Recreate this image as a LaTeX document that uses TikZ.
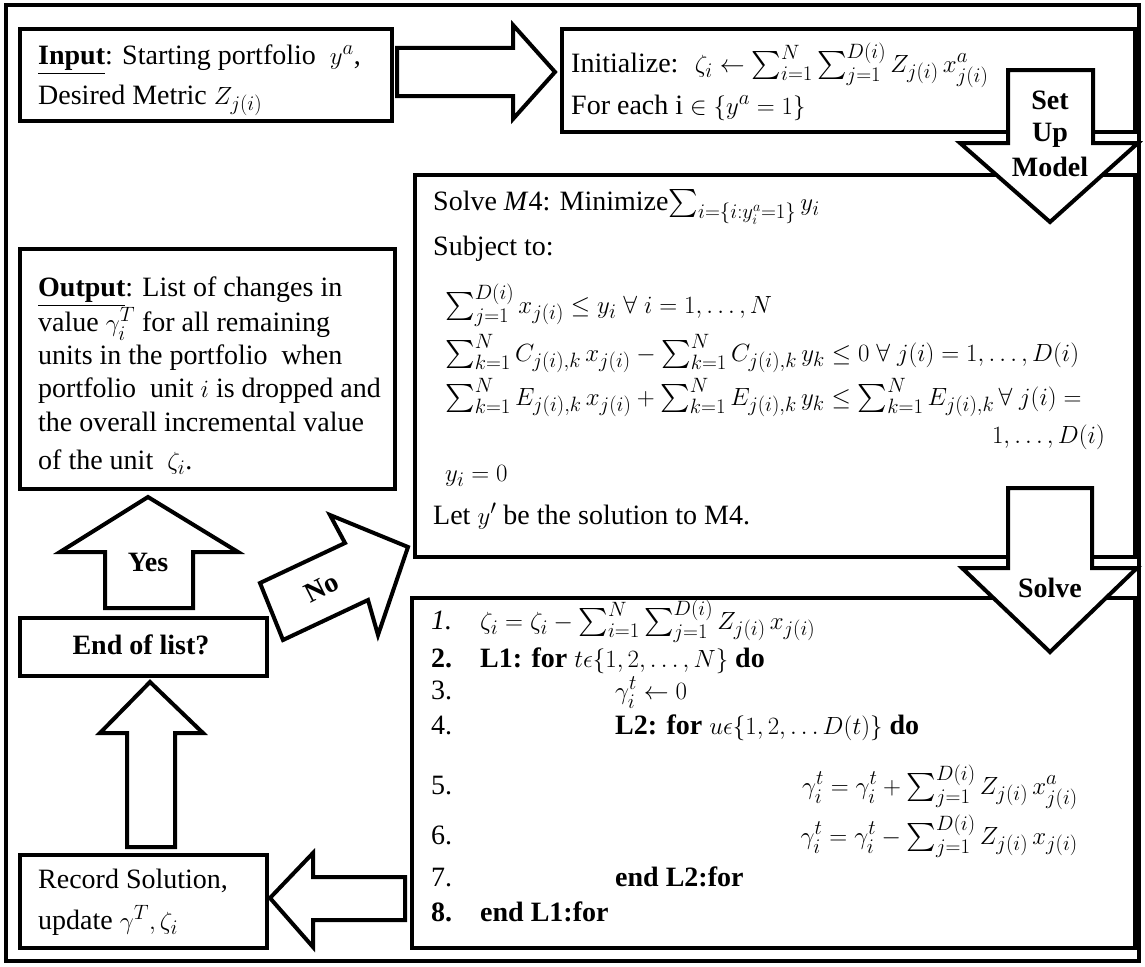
\documentclass[tikz,border=0pt]{standalone}
\usepackage{amsmath,amssymb}
\usepackage{fontspec}
\setmainfont{Liberation Serif}
\begin{document}
\begin{tikzpicture}[x=1pt,y=-1pt,
  frame/.style={draw=black,line width=3.5pt},
  panel/.style={draw=black,line width=4pt,fill=white,anchor=north west,inner sep=0pt},
  blockarrow/.style={draw=black,line width=4pt,fill=white,line join=miter},
  txt/.style={anchor=base west,inner sep=0pt,font=\fontsize{28}{34}\selectfont},
  rtxt/.style={txt,anchor=base east},
  lbl/.style={inner sep=0pt,font=\fontsize{28}{30}\selectfont\bfseries}]
\useasboundingbox (0,0) rectangle (1145,966);
% outer frame
\draw[frame] (6,5) rectangle (1139,961);

% boxes
\node[panel,minimum width=372pt,minimum height=92pt]  (input)  at (18,27)  {};
\node[panel,minimum width=573pt,minimum height=103pt] (init)   at (560,27) {};
\node[panel,minimum width=720pt,minimum height=382pt] (model)  at (413,173) {};
\node[panel,minimum width=375pt,minimum height=240pt] (output) at (18,247) {};
\node[panel,minimum width=247pt,minimum height=58pt]  (endlist) at (18,616) {};
\node[panel,minimum width=247pt,minimum height=93pt]  (record) at (18,853) {};
\node[panel,minimum width=723pt,minimum height=350pt] (solve)  at (410,596) {};

% block arrows
\draw[blockarrow] (397,48) -- (513,48) -- (513,25) -- (555,72) -- (513,119) -- (513,96) -- (397,96) -- cycle;
\draw[blockarrow] (1008,70) -- (1093,70) -- (1093,143) -- (1138,143) -- (1050,222) -- (960,143) -- (1008,143) -- cycle;
\draw[blockarrow] (1008,488) -- (1092,488) -- (1092,568) -- (1137,568) -- (1050,652) -- (962,568) -- (1008,568) -- cycle;
\draw[blockarrow] (105,608) -- (105,552) -- (60,552) -- (148,497) -- (238,552) -- (193,552) -- (193,608) -- cycle;
\draw[blockarrow] (260,583) -- (345,543) -- (330,515) -- (408,547) -- (378,635) -- (368,600) -- (283,640) -- cycle;
\draw[blockarrow] (127,847) -- (127,733) -- (100,733) -- (150,682) -- (203,733) -- (175,733) -- (175,847) -- cycle;
\draw[blockarrow] (405,877) -- (313,877) -- (313,853) -- (270,898) -- (313,947) -- (313,920) -- (405,920) -- cycle;

% arrow labels
\node[lbl] (lset)   at (1050,100) {Set};
\node[lbl] (lup)    at (1050,135) {Up};
\node[lbl] (lmodel) at (1050,167) {Model};
\node[lbl] (lsolve) at (1050,588) {Solve};
\node[lbl] (lyes)   at (148,562) {Yes};
\node[lbl,rotate=27] (lno) at (322,588) {No};

% input
\node[txt] (in1) at (38,64) {\underline{\textbf{Input}}: Starting portfolio~ $y^{a}$,};
\node[txt] (in2) at (38,104) {Desired Metric $Z_{j(i)}$};

% initialize
\node[txt] (it1) at (571,72) {Initialize:~ $\zeta_i \leftarrow \sum_{i=1}^{N}\sum_{j=1}^{D(i)} Z_{j(i)}\,x_{j(i)}^{a}$};
\node[txt] (it2) at (571,114) {For each i $\in \{y^{a} = 1\}$};

% model M4
\node[txt] (m1) at (433,210) {Solve \textit{M}4: Minimize$\sum_{i=\{i:y_i^{a}=1\}} y_i$};
\node[txt] (m2) at (433,255) {Subject to:};
\node[txt] (m3) at (445,313) {$\sum_{j=1}^{D(i)} x_{j(i)} \le y_i \;\forall\; i = 1,\dots,N$};
\node[txt] (m4) at (445,361) {$\sum_{k=1}^{N} C_{j(i),k}\,x_{j(i)} - \sum_{k=1}^{N} C_{j(i),k}\,y_k \le 0 \;\forall\; j(i) = 1,\dots,D(i)$};
\node[txt] (m5) at (445,405) {$\sum_{k=1}^{N} E_{j(i),k}\,x_{j(i)} + \sum_{k=1}^{N} E_{j(i),k}\,y_k \le \sum_{k=1}^{N} E_{j(i),k}\,\forall\; j(i) =$};
\node[rtxt] (m6) at (1105,443) {$1,\dots,D(i)$};
\node[txt] (m7) at (445,481) {$y_i = 0$};
\node[txt] (m8) at (433,524) {Let $y'$ be the solution to M4.};

% output
\node[txt] (o1) at (38,296) {\underline{\textbf{Output}}: List of changes in};
\node[txt] (o2) at (38,331) {value $\gamma_i^{T}$ for all remaining};
\node[txt] (o3) at (38,364) {units in the portfolio~ when};
\node[txt] (o4) at (38,397) {portfolio~ unit $i$ is dropped and};
\node[txt] (o5) at (38,431) {the overall incremental value};
\node[txt] (o6) at (38,469) {of the unit~ $\zeta_i$.};

% decision and record
\node[lbl] (e1) at (141,645) {End of list?};
\node[txt] (r1) at (38,888) {Record Solution,};
\node[txt] (r2) at (38,929) {update $\gamma^{T},\zeta_i$};

% algorithm
\node[txt] (n1) at (431,629) {\textit{1.}};
\node[txt] (n2) at (431,667) {\textbf{2.}};
\node[txt] (n3) at (431,699) {3.};
\node[txt] (n4) at (431,734) {4.};
\node[txt] (n5) at (431,794) {5.};
\node[txt] (n6) at (431,844) {6.};
\node[txt] (n7) at (431,886) {7.};
\node[txt] (n8) at (431,921) {\textbf{8.}};
\node[txt] (a1) at (480,629) {$\zeta_i = \zeta_i - \sum_{i=1}^{N}\sum_{j=1}^{D(i)} Z_{j(i)}\,x_{j(i)}$};
\node[txt] (a2) at (480,667) {\textbf{L1: for} $t\epsilon\{1,2,\dots,N\}$ \textbf{do}};
\node[txt] (a3) at (615,699) {$\gamma_i^{t} \leftarrow 0$};
\node[txt] (a4) at (615,734) {\textbf{L2: for} $u\epsilon\{1,2,\dots D(t)\}$ \textbf{do}};
\node[rtxt] (a5) at (1078,794) {$\gamma_i^{t} = \gamma_i^{t} + \sum_{j=1}^{D(i)} Z_{j(i)}\,x_{j(i)}^{a}$};
\node[rtxt] (a6) at (1078,844) {$\gamma_i^{t} = \gamma_i^{t} - \sum_{j=1}^{D(i)} Z_{j(i)}\,x_{j(i)}$};
\node[txt] (a7) at (615,886) {\textbf{end L2:for}};
\node[txt] (a8) at (480,921) {\textbf{end L1:for}};
\end{tikzpicture}
\end{document}
